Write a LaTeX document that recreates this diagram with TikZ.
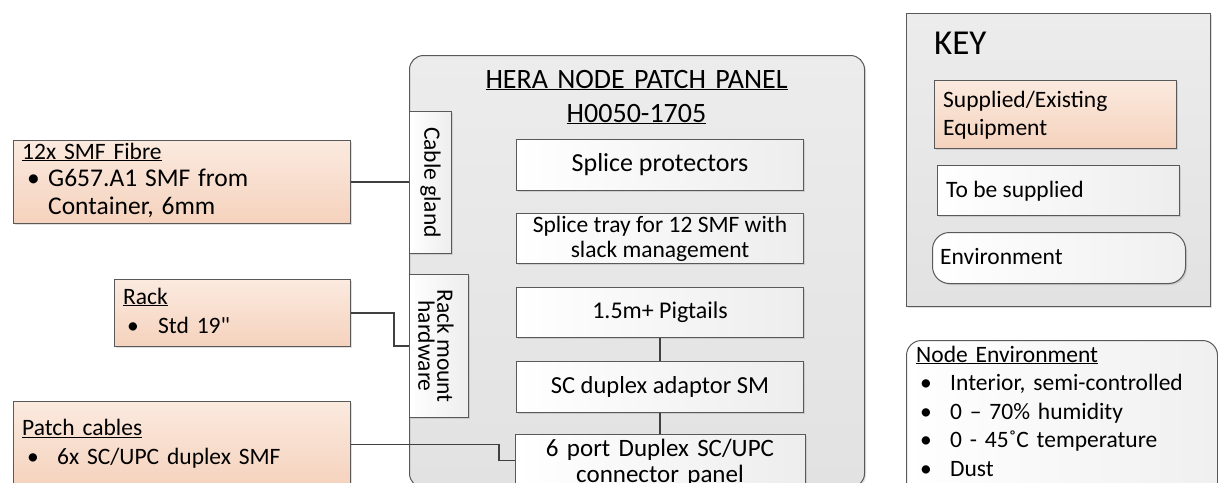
\documentclass[tikz,border=0pt]{standalone}
\usepackage{fontspec}
\setmainfont{Carlito}
\usetikzlibrary{shadows}
\definecolor{orTop}{RGB}{251,234,223}
\definecolor{orBot}{RGB}{245,210,189}
\definecolor{edgegray}{RGB}{89,89,89}
\definecolor{wiregray}{RGB}{64,64,64}
\definecolor{panelTop}{RGB}{236,236,236}
\definecolor{panelBot}{RGB}{226,226,226}
\newcommand\bodyfont{\fontsize{23.5}{28.5}\selectfont}
\newcommand\innerfont{\fontsize{24.5}{28}\selectfont}
\newcommand\titlefont{\fontsize{28}{34}\selectfont}
\newcommand\keyfont{\fontsize{35}{40}\selectfont}
\newcommand\bulw[1]{\makebox[#1pt][l]{\textbullet}}
\begin{document}
\begin{tikzpicture}[x=1pt,y=-1pt,
  boxbase/.style={draw=edgegray, line width=1pt, anchor=north west, inner sep=0pt,
    drop shadow={shadow xshift=1.5pt,shadow yshift=-1.5pt,opacity=0.25}},
  orangebox/.style={boxbase, top color=orTop, bottom color=orBot},
  whitebox/.style={boxbase, left color=white, right color=black!7, font=\innerfont},
  panelbox/.style={boxbase, top color=panelTop, bottom color=panelBot},
  envbox/.style={boxbase, left color=white, right color=black!6},
  txt/.style={anchor=base west, inner sep=0pt, font=\bodyfont, align=left},
  wire/.style={draw=wiregray, line width=1.6pt}]
\useasboundingbox (0,0) rectangle (1218,482);
\clip (0,0) rectangle (1218,482);

% main panel
\node[panelbox, rounded corners=14pt, minimum width=455pt, minimum height=432pt] (panel) at (409,55) {};
\node[anchor=base, inner sep=0pt, text width=420pt, align=center, font=\titlefont] (title) at (636.5,88)
  {\underline{HERA NODE PATCH PANEL}\\\underline{H0050-1705}};

% inner boxes
\node[whitebox, minimum width=287pt, minimum height=51pt, font=\fontsize{26}{28}\selectfont] (splprot) at (516,139) {Splice protectors};
\node[whitebox, minimum width=287pt, minimum height=50pt, align=center, font=\fontsize{23.5}{25}\selectfont] (spltray) at (516,213) {Splice tray for 12 SMF with\\slack management};
\node[whitebox, minimum width=287pt, minimum height=50pt, font=\fontsize{24}{28}\selectfont] (pigtails) at (516,287) {1.5m+ Pigtails};
\node[whitebox, minimum width=287pt, minimum height=51pt] (scdup) at (516,361) {SC duplex adaptor SM};
\node[whitebox, minimum width=290pt, minimum height=52pt] (sixport) at (515,434) {};
\node[anchor=base, inner sep=0pt, text width=290pt, align=center, font=\fontsize{25}{26}\selectfont] (sixtxt) at (660,456)
  {6 port Duplex SC/UPC\\connector panel};

\node[whitebox, minimum width=42pt, minimum height=142pt] (gland) at (409,111) {};
\node[rotate=-90, inner sep=0pt, font=\bodyfont] (glandtxt) at (gland.center) {Cable gland};
\node[whitebox, minimum width=59pt, minimum height=143pt] (rackhw) at (409,274) {};
\node[rotate=-90, inner sep=0pt, align=center, font=\fontsize{23.5}{19}\selectfont] (rackhwtxt) at ([xshift=-3pt]rackhw.center) {Rack mount\\hardware};

% supplied equipment
\node[orangebox, minimum width=337pt, minimum height=83pt] (fibre) at (13,140) {};
\node[txt, text width=320pt, font=\fontsize{23.5}{27.8}\selectfont] (fibretxt) at (22,159)
  {\underline{12x SMF Fibre}\\\fontsize{25.5}{27.8}\selectfont\hspace*{5pt}\bulw{21}G657.A1 SMF from\\\hspace*{26pt}Container, 6mm};
\node[orangebox, minimum width=236pt, minimum height=67pt] (rack) at (114,279) {};
\node[txt, text width=220pt, font=\fontsize{23.5}{29}\selectfont] (racktxt) at (123,304)
  {\underline{Rack}\\\hspace*{4pt}\bulw{31}Std 19\textquotedbl};
\node[orangebox, minimum width=337pt, minimum height=86pt] (patch) at (13,401) {};
\node[txt, text width=320pt, font=\fontsize{23.5}{28.5}\selectfont] (patchtxt) at (22,435.5)
  {\underline{Patch cables}\\\hspace*{5pt}\bulw{30}6x SC/UPC duplex SMF};

% key
\node[panelbox, minimum width=304pt, minimum height=293pt] (keybox) at (906,13) {};
\node[anchor=base west, inner sep=0pt, font=\keyfont] (keytitle) at (934,54) {KEY};
\node[orangebox, minimum width=242pt, minimum height=68pt] (keysup) at (934,80) {};
\node[txt, text width=230pt] (keysuptxt) at (943,107) {Supplied/Existing\\Equipment};
\node[boxbase, left color=white, right color=black!7, minimum width=242pt, minimum height=50pt] (keytbs) at (937,165) {};
\node[txt] (keytbstxt) at (946,197) {To be supplied};
\node[envbox, rounded corners=17pt, minimum width=253pt, minimum height=51pt] (keyenv) at (932,232) {};
\node[txt] (keyenvtxt) at (940,264) {Environment};

% node environment
\node[envbox, rounded corners=15pt, minimum width=311pt, minimum height=170pt] (env) at (906,340) {};
\node[txt, text width=300pt, font=\fontsize{23.5}{28.5}\selectfont] (envtxt) at (916,362)
  {\underline{Node Environment}\\
   \hspace*{4pt}\bulw{30}Interior, semi-controlled\\
   \hspace*{4pt}\bulw{30}0 – 70\% humidity\\
   \hspace*{4pt}\bulw{30}0 - 45˚C temperature\\
   \hspace*{4pt}\bulw{30}Dust};

% connectors
\draw[wire] (fibre.east) -- (fibre.east -| gland.west);
\draw[wire] (rack.east) -- ++(43,0) |- (rackhw.west);
\draw[wire] (patch.east) -- ++(148,0) |- (sixport.west);
\draw[wire] (pigtails.south) -- (scdup.north);
\draw[wire] (scdup.south) -- (scdup.south |- sixport.north);
\end{tikzpicture}
\end{document}
